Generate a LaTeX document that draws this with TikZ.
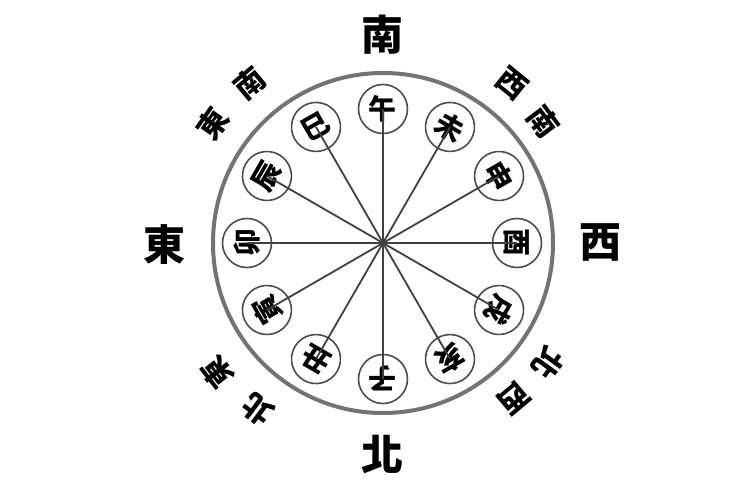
\documentclass[tikz,border=0pt]{standalone}
\usepackage{fontspec}
\newfontfamily\cjk{Noto Sans CJK TC}
\usetikzlibrary{positioning}

\tikzset{
  branch/.style={circle, draw=black!70, line width=1.6pt, minimum size=49pt, inner sep=0pt,
    font=\cjk\bfseries\fontsize{28}{28}\selectfont},
  quarter/.style={inner sep=0pt, font=\cjk\bfseries\fontsize{42}{42}\selectfont},
  corner/.style={inner sep=0pt, font=\cjk\bfseries\fontsize{30}{30}\selectfont},
  spoke/.style={draw=black!75, line width=1.8pt}
}

\begin{document}
\begin{tikzpicture}[x=1pt,y=1pt]
        % \draw[help lines] (-383,-257) grid (367,243);
        \useasboundingbox (-383,-257) rectangle (367,243);
        \coordinate (o) at (0,0);
        \draw[black!55, line width=4pt] (o) circle (170);

        % twelve branches
        \node[branch, rotate=0]    at (90:134)   (wu)   {午};
        \node[branch, rotate=-30]  at (60:134)   (wei)  {未};
        \node[branch, rotate=-60]  at (30:134)   (shen) {申};
        \node[branch, rotate=-90]  at (0:134)    (you)  {酉};
        \node[branch, rotate=-120] at (-30:134)  (xu)   {戌};
        \node[branch, rotate=-150] at (-60:134)  (hai)  {亥};
        \node[branch, rotate=180]  at (-90:136)  (zi)   {子};
        \node[branch, rotate=150]  at (-120:134) (chou) {丑};
        \node[branch, rotate=120]  at (-150:134) (yin)  {寅};
        \node[branch, rotate=90]   at (180:136)  (mao)  {卯};
        \node[branch, rotate=60]   at (150:134)  (chen) {辰};
        \node[branch, rotate=30]   at (120:134)  (si)   {巳};

        \path[spoke]
        (o) edge (wu.center)
        (o) edge (wei.center)
        (o) edge (shen.center)
        (o) edge (you.center)
        (o) edge (xu.center)
        (o) edge (hai.center)
        (o) edge (zi.center)
        (o) edge (chou.center)
        (o) edge (yin.center)
        (o) edge (mao.center)
        (o) edge (chen.center)
        (o) edge (si.center);

        % four quarters
        \node[quarter] at (0,208)   (south) {南};
        \node[quarter] at (-218,-2) (east)  {東};
        \node[quarter] at (217,1)   (west)  {西};
        \node[quarter] at (0,-212)  (north) {北};

        % corners
        \node[corner, rotate=55]   at (145:208) (se1) {東};
        \node[corner, rotate=40]   at (130:208) (se2) {南};
        \node[corner, rotate=-39]  at (51:205)  (sw1) {西};
        \node[corner, rotate=-53]  at (37:201)  (sw2) {南};
        \node[corner, rotate=-140] at (-50:203) (nw1) {西};
        \node[corner, rotate=-126] at (-36:204) (nw2) {北};
        \node[corner, rotate=128]  at (218:210) (ne1) {東};
        \node[corner, rotate=143]  at (233:208) (ne2) {北};
\end{tikzpicture}
\end{document}
